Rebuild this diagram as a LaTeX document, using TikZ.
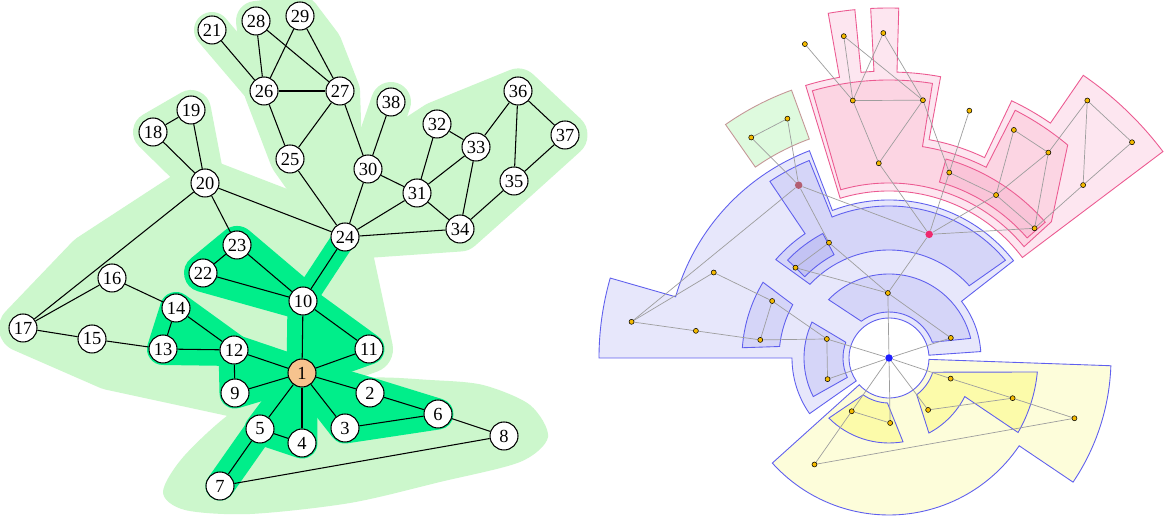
\documentclass[tikz,border=0pt]{standalone}
\usepackage{fontspec}
\setmainfont{Liberation Serif}
\usetikzlibrary{backgrounds}

\definecolor{lgreen}{RGB}{204,247,204}
\definecolor{bgreen}{RGB}{0,238,138}
\definecolor{hubfill}{RGB}{246,195,142}
\definecolor{bline}{RGB}{95,95,238}
\definecolor{bout}{RGB}{231,231,251}
\definecolor{bmid}{RGB}{213,213,248}
\definecolor{binn}{RGB}{195,195,244}
\definecolor{yout}{RGB}{253,253,218}
\definecolor{yinn}{RGB}{252,251,170}
\definecolor{pline}{RGB}{236,90,145}
\definecolor{pout}{RGB}{253,230,240}
\definecolor{pmid}{RGB}{252,213,227}
\definecolor{pinn}{RGB}{250,196,216}
\definecolor{gfill}{RGB}{222,250,222}
\definecolor{gline}{RGB}{196,150,150}
\definecolor{dotfill}{RGB}{244,186,0}
\definecolor{rootblue}{RGB}{32,32,255}
\definecolor{rootpink}{RGB}{238,42,110}
\definecolor{rootmauve}{RGB}{179,95,114}

\tikzset{
  vert/.style={circle, draw, fill=white, line width=0.6pt, minimum size=0.56cm,
    inner sep=0pt, font=\fontsize{10.5}{12}\selectfont},
  hub/.style={vert, fill=hubfill},
  lhull/.style={fill=lgreen, draw=lgreen, line join=round, line width=#1},
  ghull/.style={fill=bgreen, draw=bgreen, line join=round, line width=#1},
  dot/.style={circle, draw, fill=dotfill, line width=0.3pt, minimum size=0.1cm, inner sep=0pt},
  bigdot/.style={circle, fill=#1, minimum size=0.15cm, inner sep=0pt},
  link/.style={line width=0.6pt},
  glink/.style={draw=black!38, line width=0.4pt},
  breg/.style={fill=#1, draw=bline, line width=0.5pt},
  preg/.style={fill=#1, draw=pline, line width=0.5pt}
}

\begin{document}
\begin{tikzpicture}[x=0.02cm, y=0.02cm]
  \useasboundingbox (0,0) rectangle (1164,-519);

  \node[hub] (n1) at (302,-373) {1};
  \foreach \i/\x/\y in {2/370/393, 3/345/428, 4/302/443, 5/260/429, 6/438/414,
      7/220/486, 8/504/436, 9/235/393, 10/303/301, 11/369/349, 12/234/350,
      13/163/349, 14/176/308, 15/92/339, 16/112/278, 17/23/328, 18/153/132,
      19/191/110, 20/205/183, 21/212/30, 22/203/273, 23/237/245, 24/345/237,
      25/290/159, 26/264/91, 27/340/91, 28/256/21, 29/300/16, 30/368/169,
      31/417/193, 32/437/124, 33/476/147, 34/460/229, 35/514/181, 36/518/91,
      37/565/135, 38/391/102}
    \node[vert] (n\i) at (\x,-\y) {\i};

  \begin{scope}[shift={(889,-358)}]
    \node[bigdot=rootblue] (r1) at (0,0) {};
    \node[bigdot=rootmauve] (r20) at (117.6:195) {};
    \node[bigdot=rootpink] (r24) at (72:130) {};
    \foreach \i/\a/\r in {2/-18.5/65, 3/-53/65, 4/-89/65, 5/-125/65, 6/-18/130,
        7/-125/130, 8/-18/195, 9/199/65, 10/91/65, 11/18/65, 12/163/65,
        13/172/130, 14/154/130, 15/172/195, 16/154/195, 17/172/260, 18/122/260,
        19/113/260, 21/105/325, 22/136/130, 23/117.5/130, 25/93/195, 26/98/260,
        27/82.5/260, 28/98/325, 29/91/325, 30/72/195, 31/56.7/195, 32/61.3/260,
        33/52.2/260, 34/41.7/195, 35/41.7/260, 36/52.4/325, 37/41.6/325,
        38/72/260}
      \node[dot] (r\i) at (\a:\r) {};
  \end{scope}

  \begin{scope}[on background layer]
    \fill[white] (0,0) rectangle (1164,-519);

    \filldraw[lhull=0.72cm] (n21.center) -- (n26.center) -- cycle;
    \filldraw[lhull=0.8cm] (n28.center) -- (n29.center) -- (322,-45) -- (n27.center)
      -- (n24.center) -- (n25.center) -- (n26.center) -- cycle;
    \filldraw[lhull=0.8cm] (n30.center) -- (n38.center) -- cycle;
    \filldraw[lhull=0.9cm] (n24.center) -- (n30.center) -- (n32.center) -- (n36.center)
      -- (n37.center) -- (n35.center) -- (n34.center) -- cycle;
    \filldraw[lhull=0.8cm] (n18.center) -- (n19.center) -- (n20.center) -- cycle;
    \filldraw[lhull=0.96cm] (n17.center) -- (90,-258) -- (n20.center) -- (n24.center)
      -- (n11.center) -- (n1.center) -- (n9.center) -- (110,-366) -- cycle;
    \fill[lgreen] plot[smooth cycle] coordinates {
      (163,-492) (185,-455) (240,-407) (300,-392) (367,-378) (430,-380)
      (483,-385) (530,-405) (548,-437) (520,-462) (440,-482) (350,-503)
      (250,-514) (185,-510)
    };

    \filldraw[ghull=0.76cm] (n22.center) -- (n23.center) -- (n10.center) -- cycle;
    \filldraw[ghull=0.48cm] (n10.center) -- (n24.center) -- cycle;
    \filldraw[ghull=0.62cm] (n1.center) -- (n10.center) -- (n11.center) -- cycle;
    \filldraw[ghull=0.64cm] (n13.center) -- (n14.center) -- (n12.center) -- cycle;
    \filldraw[ghull=0.62cm] (n1.center) -- (n12.center) -- (n9.center) -- cycle;
    \filldraw[ghull=0.62cm] (n1.center) -- (n2.center) -- (n6.center) -- (n3.center) -- cycle;
    \filldraw[ghull=0.62cm] (n1.center) -- (n5.center) -- (n4.center) -- cycle;
    \filldraw[ghull=0.58cm] (n5.center) -- (n7.center) -- cycle;

    \begin{scope}[shift={(889,-358)}]
      \filldraw[breg=bout] (4:40) arc (4:215:40) -- (215:97) arc (215:180:97)
        -- (180:290) arc (180:164:290) -- (164:222) arc (164:111:222)
        -- (111:158) arc (111:38:158) -- (38:92) arc (38:4:92) -- cycle;
      \filldraw[breg=bmid] (20:46) arc (20:127:46) -- (136:84) arc (136:13.5:84) -- cycle;
      \filldraw[breg=bmid] (160:46) arc (160:205:46) -- (207:85) arc (207:155:85) -- cycle;
      \filldraw[breg=bmid] (151:110) arc (151:174:110) -- (176:147) arc (176:149:147) -- cycle;
      \filldraw[breg=bmid] (42:108) arc (42:137:108) -- (139:150) arc (139:124:150)
        -- (124:213) arc (124:112:213) -- (112:152) arc (112:40:152) -- cycle;
      \filldraw[breg=binn] (118:117) arc (118:136:117) -- (136:141) arc (136:118:141) -- cycle;

      \filldraw[fill=gfill, draw=gline, line width=0.5pt]
        (110:233) arc (110:125:233) -- (125:285) arc (125:110:285) -- cycle;

      \filldraw[preg=pout] (107:167) -- (107:285) arc (107:100:285) -- (100:350)
        arc (100:95.6:350) -- (95.6:287) arc (95.6:93:287) -- (93:350)
        arc (93:88.4:350) -- (88.4:286) arc (88.4:79.6:286) -- (79.6:222)
        arc (79.6:64.5:222) -- (64.5:285) arc (64.5:55.5:285) -- (55.5:343)
        arc (55.5:37:343) -- (37:167) arc (37:107:167) -- cycle;
      \filldraw[preg=pmid] (106:175) -- (106:278) arc (106:81:278) -- (81:214)
        arc (81:63:214) -- (63:278) arc (63:50:278) -- (40:212) -- (39.5:175)
        arc (39.5:106:175) -- cycle;
      \filldraw[preg=pinn] (41:183) arc (41:74:183) -- (74:207) arc (74:41:207) -- cycle;

      \filldraw[breg=yout] (-2:40) -- (-2:222) arc (-2:-34:222) -- (-34:157)
        arc (-34:-138:157) -- (-138:40) arc (-138:-2:40) -- cycle;
      \filldraw[breg=yinn] (-125:45) arc (-125:-92:45) -- (-80.5:85) arc (-80.5:-135:85) -- cycle;
      \filldraw[breg=yinn] (-53:46) arc (-53:-18:46) -- (-5.4:149) arc (-5.4:-30:149)
        -- (-27:85) arc (-27:-62:85) -- cycle;
    \end{scope}

    \foreach \a/\b in {1/2, 1/3, 1/4, 1/5, 1/9, 1/10, 1/11, 1/12, 2/6, 3/6, 6/8,
        7/8, 5/7, 4/5, 9/12, 12/13, 12/14, 13/14, 13/15, 15/17, 16/17, 17/20,
        14/16, 10/11, 10/22, 10/23, 22/23, 10/24, 20/23, 20/24, 18/20, 19/20,
        18/19, 24/25, 24/30, 24/31, 24/34, 25/26, 25/27, 26/27, 21/26, 26/28,
        26/29, 27/28, 27/29, 27/30, 30/38, 30/31, 31/32, 31/33, 31/34, 32/33,
        33/34, 33/36, 35/36, 36/37, 35/37, 34/35} {
      \draw[link] (n\a) -- (n\b);
      \draw[glink] (r\a) -- (r\b);
    }
  \end{scope}
\end{tikzpicture}
\end{document}
